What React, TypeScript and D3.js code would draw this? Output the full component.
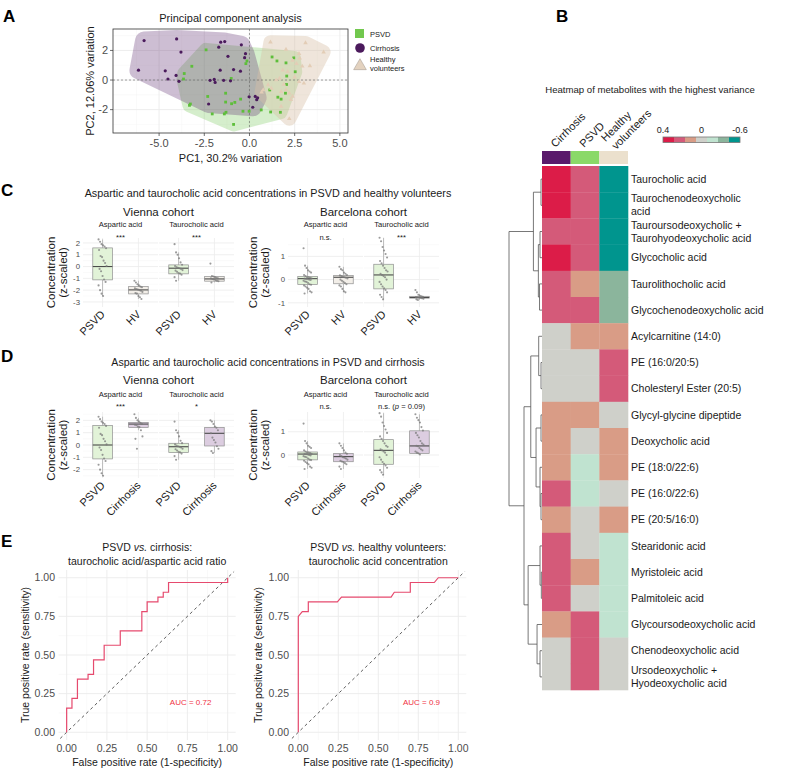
import React from 'react';
import * as d3 from 'd3';

const FONT = "'Liberation Sans', Arial, Helvetica, sans-serif";
const TXT = '#1a1a1a';
const AX = '#4d4d4d';
const GRID = '#EBEBEB';
const GRID_MINOR = '#F5F5F5';

// ---------------- Panel A: PCA ----------------
const pcaPSVD: [number, number][] = [
  [-2.4, 2.04], [-3.19, 0.93], [-3.61, 0.44], [-3.65, 0.07], [-3.27, -1.62], [-3.32, -1.71],
  [-2.06, -2.29], [-1.39, -2.29], [-1.3, -2.18], [-0.88, -3.0], [-1.32, -0.89], [-1.32, -1.49],
  [-0.99, -1.6], [-0.81, -1.51], [-0.49, -1.29], [-0.36, -2.11], [-1.01, 0.11], [-0.2, 1.11],
  [-0.14, 1.29], [-0.02, -2.11], [0.65, -2.02], [1.17, -2.16], [1.71, -2.18], [1.25, 1.56],
  [1.52, 1.29], [2.02, 1.16], [2.53, 0.56], [2.06, 0.27], [1.12, -0.67], [1.57, -1.16],
  [1.75, -1.29], [1.99, -0.89], [-2.31, -1.11], [2.05, -0.3], [2.45, 1.5],
];
const pcaCirrhosis: [number, number][] = [
  [-5.83, 2.67], [-4.03, 2.78], [-6.14, 0.67], [-4.66, 0.62], [-4.51, 0.07], [-4.06, 0.31],
  [-3.9, -0.09], [-3.79, 1.89], [-1.59, 2.56], [-1.37, 2.6], [-0.45, 2.38], [-1.7, 2.22],
  [-1.19, 1.6], [-0.27, 1.51], [-0.22, 1.78], [-1.62, 0.67], [-0.88, 0.71], [-2.18, -0.02],
  [-1.95, 0.04], [-1.9, -0.16], [-1.43, -0.02], [-2.26, -1.62], [-0.02, -1.13], [0.32, -1.11],
  [0.4, -1.33], [0.45, -1.2], [0.18, -1.84], [-1.05, -0.05], [-0.5, 0.6],
];
const pcaHealthy: [number, number][] = [
  [1.16, 2.56], [3.1, 2.51], [4.1, 1.89], [2.02, 2.07], [2.74, 1.78], [2.78, 1.47], [2.38, 1.33],
  [2.6, 1.11], [3.34, 0.96], [2.92, 0.93], [1.84, 0.67], [2.11, 0.56], [1.48, 0.0], [1.66, 0.11],
  [2.74, -0.11], [3.01, -0.22], [1.03, -0.33], [1.21, -0.56], [0.76, -0.67], [0.67, -0.82],
  [2.02, -0.67], [2.2, -0.89], [1.75, -0.78], [2.38, -1.11], [2.29, -1.33], [2.2, -2.62],
  [1.75, -1.78], [2.5, 0.2], [1.9, -0.3],
];
const pcaXTicks = [-5, -2.5, 0, 2.5, 5];
const pcaYTicks = [-2, 0, 2];
const pcaXMinor = [-6.25, -3.75, -1.25, 1.25, 3.75];
const pcaYMinor = [-3, -1, 1, 3];

// ---------------- Panel B: heatmap ----------------
const metabolites = [
  'Taurocholic acid', 'Taurochenodeoxycholic\nacid', 'Tauroursodeoxycholic +\nTaurohyodeoxycholic acid',
  'Glycocholic acid', 'Taurolithocholic acid', 'Glycochenodeoxycholic acid', 'Acylcarnitine (14:0)',
  'PE (16:0/20:5)', 'Cholesteryl Ester (20:5)', 'Glycyl-glycine dipeptide', 'Deoxycholic acid',
  'PE (18:0/22:6)', 'PE (16:0/22:6)', 'PE (20:5/16:0)', 'Stearidonic acid', 'Myristoleic acid',
  'Palmitoleic acid', 'Glycoursodeoxycholic acid', 'Chenodeoxycholic acid',
  'Ursodeoxycholic +\nHyodeoxycholic acid',
];
const heatColumns = ['Cirrhosis', 'PSVD', 'Healthy volunteers'];
const heatCirrhosis = [0.4, 0.4, 0.25, 0.4, 0.25, 0.25, 0, 0, 0, 0.1, 0.1, 0.1, 0.25, 0.1, 0.25, 0.25, 0.25, 0.1, 0, 0];
const heatPSVD = [0.25, 0.25, 0.25, 0.25, 0.1, 0.25, 0.1, 0, 0, 0.1, 0, -0.2, -0.2, 0, 0, 0.1, 0, 0.25, 0.25, 0.25];
const heatHealthy = [-0.6, -0.6, -0.6, -0.6, -0.4, -0.4, 0.1, 0.25, 0.25, 0, 0.1, 0.1, 0, 0.1, -0.2, -0.2, -0.2, -0.2, 0, 0];
const heatLegendBins = [0.4, 0.25, 0.1, 0, -0.2, -0.4, -0.6];
const heatLegendLabels = ['0.4', '0', '-0.6'];
const heatPalette = ['#00958E', '#8BB59C', '#C0E3D0', '#CFD0CA', '#D99C86', '#D45A79', '#DC1C48'];
const annotColors = ['#5A1A6B', '#8AD968', '#EBE0CD'];

type DNode = { h?: number; leaf?: number; children?: DNode[] };
const dendroTree: DNode = { h: 1, children: [
  { h: 0.26, children: [
    { h: 0.03, children: [{ leaf: 0 }, { leaf: 1 }] },
    { h: 0.11, children: [
      { h: 0.06, children: [{ leaf: 2 }, { leaf: 3 }] },
      { h: 0.075, children: [{ leaf: 4 }, { leaf: 5 }] }] }] },
  { h: 0.545, children: [
    { h: 0.34, children: [
      { h: 0.1, children: [{ leaf: 6 }, { h: 0.03, children: [{ leaf: 7 }, { leaf: 8 }] }] },
      { h: 0.18, children: [
        { h: 0.03, children: [{ leaf: 9 }, { leaf: 10 }] },
        { h: 0.06, children: [{ leaf: 11 }, { h: 0.03, children: [{ leaf: 12 }, { leaf: 13 }] }] }] }] },
    { h: 0.42, children: [
      { h: 0.06, children: [{ leaf: 14 }, { h: 0.02, children: [{ leaf: 15 }, { leaf: 16 }] }] },
      { h: 0.15, children: [{ leaf: 17 }, { h: 0.06, children: [{ leaf: 18 }, { leaf: 19 }] }] }] }] }] };

// ---------------- Panels C / D: box plots ----------------
// box stats: [lower whisker, Q1, median, Q3, upper whisker]
const vieAspPSVDBox = [-2.5, -1.13, 0, 1.58, 2.3];
const vieAspPSVDPts = [2.3, 2.1, 1.9, 1.8, 1.7, 1.55, 1.4, 0.9, 0.8, 0.5, 0.3, 0.05, -0.2, -0.4, -0.8, -1.1, -1.3, -1.6, -2.0, -2.3, -2.5];
const vieAspHVBox = [-2.75, -2.32, -1.98, -1.7, -1.2];
const vieAspHVPts = [-1.2, -1.35, -1.5, -1.6, -1.7, -1.75, -1.85, -1.9, -1.95, -2.0, -2.05, -2.15, -2.25, -2.3, -2.5, -2.6, -2.75];
const vieAspCirBox = [1.2, 1.43, 1.7, 1.84, 2.2];
const vieAspCirPts = [2.5, 2.2, 2.0, 1.9, 1.8, 1.7, 1.65, 1.6, 1.5, 1.45, 1.2, 0.7, 0.5, -0.3];
const vieTauPSVDBox = [-1.2, -0.62, -0.14, 0.14, 1.2];
const vieTauPSVDPts = [1.9, 1.2, 1.0, 0.7, 0.35, 0.15, 0.05, -0.05, -0.1, -0.15, -0.2, -0.3, -0.35, -0.45, -0.55, -0.6, -0.7, -0.9, -1.2];
const vieTauHVBox = [-1.35, -1.24, -1.05, -0.85, -0.8];
const vieTauHVPts = [0.25, -0.8, -0.85, -0.9, -0.95, -1.0, -1.0, -1.05, -1.1, -1.15, -1.2, -1.25, -1.35];
const vieTauCirBox = [-0.65, -0.08, 0.95, 1.43, 2.0];
const vieTauCirPts = [2.0, 1.9, 1.7, 1.5, 1.4, 1.2, 0.95, 0.6, 0.4, 0.2, -0.1, -0.3, -0.5, -0.65];

const barAspPSVDBox = [-0.6, -0.21, 0.04, 0.13, 0.6];
const barAspPSVDPts = [1.35, 0.6, 0.5, 0.4, 0.35, 0.3, 0.2, 0.15, 0.1, 0.1, 0.08, 0.05, 0.04, 0.03, 0.02, 0, -0.02, -0.05, -0.08, -0.1, -0.15, -0.2, -0.22, -0.25, -0.3, -0.35, -0.4, -0.5, -0.55, -0.6];
const barAspHVBox = [-0.55, -0.18, 0.1, 0.18, 0.55];
const barAspHVPts = [0.55, 0.45, 0.4, 0.3, 0.25, 0.2, 0.18, 0.15, 0.12, 0.1, 0.08, 0.05, 0.0, -0.05, -0.1, -0.15, -0.2, -0.25, -0.3, -0.4, -0.5, -0.55];
const barAspCirBox = [-0.6, -0.29, -0.07, 0.07, 0.5];
const barAspCirPts = [0.5, 0.4, 0.3, 0.2, 0.1, 0.05, 0.0, -0.05, -0.1, -0.12, -0.15, -0.2, -0.25, -0.28, -0.3, -0.35, -0.4, -0.5, -0.6];
const barTauPSVDBox = [-0.85, -0.4, 0.2, 0.66, 1.8];
const barTauPSVDPts = [1.8, 1.65, 1.4, 1.25, 1.1, 0.95, 0.8, 0.7, 0.6, 0.5, 0.4, 0.35, 0.25, 0.2, 0.15, 0.1, 0.0, -0.1, -0.2, -0.3, -0.38, -0.45, -0.55, -0.65, -0.75, -0.85];
const barTauHVBox = [-0.88, -0.8, -0.77, -0.72, -0.62];
const barTauHVPts = [-0.45, -0.55, -0.65, -0.7, -0.72, -0.74, -0.75, -0.76, -0.77, -0.78, -0.8, -0.82, -0.85, -0.88];
const barTauCirBox = [0.02, 0.07, 0.39, 1.04, 1.75];
const barTauCirPts = [1.75, 1.6, 1.5, 1.4, 1.2, 1.05, 0.95, 0.85, 0.75, 0.6, 0.5, 0.45, 0.4, 0.38, 0.3, 0.25, 0.2, 0.15, 0.1, 0.07, 0.02];

const FILL_PSVD = '#E2F3D8';
const FILL_HV = '#F2EEE8';
const FILL_CIR = '#DCCDE0';

// ---------------- Panel E: ROC ----------------
const rocCirFpr = [0, 0, 0.033, 0.033, 0.067, 0.067, 0.133, 0.133, 0.167, 0.167, 0.233, 0.233, 0.333, 0.333, 0.467, 0.467, 0.5, 0.5, 0.567, 0.567, 0.6, 0.6, 0.633, 0.633, 1, 1];
const rocCirTpr = [0, 0.156, 0.156, 0.219, 0.219, 0.344, 0.344, 0.375, 0.375, 0.469, 0.469, 0.563, 0.563, 0.656, 0.656, 0.781, 0.781, 0.844, 0.844, 0.875, 0.875, 0.906, 0.906, 0.969, 0.969, 1];
const rocHVFpr = [0, 0, 0.025, 0.0625, 0.0625, 0.244, 0.27, 0.58, 0.6, 0.7, 0.7, 0.85, 0.875, 1];
const rocHVTpr = [0, 0.75, 0.781, 0.781, 0.844, 0.844, 0.875, 0.875, 0.906, 0.906, 0.969, 0.969, 1, 1];
const rocTicks = [0, 0.25, 0.5, 0.75, 1];
const rocMinor = [0.125, 0.375, 0.625, 0.875];

// =====================================================

function PanelA() {
  const x = d3.scaleLinear().domain([-7.55, 5.45]).range([113, 348]);
  const y = d3.scaleLinear().domain([-3.58, 3.45]).range([133, 29]);
  const [x0, x1] = x.range();
  const [y1, y0] = y.range();
  const hull = (pts: [number, number][]) => {
    const h = d3.polygonHull(pts.map(p => [x(p[0]), y(p[1])] as [number, number]))!;
    return 'M' + h.map(p => p.join(',')).join('L') + 'Z';
  };
  const groups = [
    { pts: pcaPSVD, hullColor: '#6CC44A', op: 0.28, exp: 14 },
    { pts: pcaCirrhosis, hullColor: '#5E2C70', op: 0.3, exp: 18 },
    { pts: pcaHealthy, hullColor: '#D8C0A6', op: 0.4, exp: 14 },
  ];
  const tri = d3.symbol().type(d3.symbolTriangle).size(9)()!;
  const legTri = d3.symbol().type(d3.symbolTriangle).size(70)()!;
  return (
    <g>
      <text x={3} y={22} fontSize={17} fontWeight="bold" fill="#000">A</text>
      <text x={(x0 + x1) / 2} y={22} fontSize={11} textAnchor="middle" fill={TXT}>Principal component analysis</text>
      <defs>
        <clipPath id="clipA"><rect x={x0} y={y0} width={x1 - x0} height={y1 - y0} /></clipPath>
      </defs>
      <rect x={x0} y={y0} width={x1 - x0} height={y1 - y0} fill="#fff" />
      {pcaXMinor.map(v => <line key={'xm' + v} x1={x(v)} x2={x(v)} y1={y0} y2={y1} stroke={GRID_MINOR} strokeWidth={0.5} />)}
      {pcaYMinor.map(v => <line key={'ym' + v} x1={x0} x2={x1} y1={y(v)} y2={y(v)} stroke={GRID_MINOR} strokeWidth={0.5} />)}
      {pcaXTicks.map(v => <line key={'x' + v} x1={x(v)} x2={x(v)} y1={y0} y2={y1} stroke={GRID} strokeWidth={0.9} />)}
      {pcaYTicks.map(v => <line key={'y' + v} x1={x0} x2={x1} y1={y(v)} y2={y(v)} stroke={GRID} strokeWidth={0.9} />)}
      <g clipPath="url(#clipA)">
        {groups.map((g, i) => (
          <g key={i} opacity={g.op}>
            <path d={hull(g.pts)} fill={g.hullColor} stroke={g.hullColor} strokeWidth={g.exp} strokeLinejoin="round" />
          </g>
        ))}
      </g>
      <line x1={x(0)} x2={x(0)} y1={y0} y2={y1} stroke="#666" strokeWidth={0.6} strokeDasharray="2,2" />
      <line x1={x0} x2={x1} y1={y(0)} y2={y(0)} stroke="#666" strokeWidth={0.6} strokeDasharray="2,2" />
      {pcaPSVD.map((p, i) => <rect key={'p' + i} x={x(p[0]) - 1.4} y={y(p[1]) - 1.4} width={2.8} height={2.8} fill="#5DBE3A" />)}
      {pcaCirrhosis.map((p, i) => <circle key={'c' + i} cx={x(p[0])} cy={y(p[1])} r={1.6} fill="#4A1A5C" />)}
      {pcaHealthy.map((p, i) => <path key={'h' + i} d={tri} transform={`translate(${x(p[0])},${y(p[1])})`} fill="#E3CDB6" />)}
      <rect x={x0} y={y0} width={x1 - x0} height={y1 - y0} fill="none" stroke="#333" strokeWidth={0.8} />
      {pcaXTicks.map(v => (
        <g key={'xt' + v}>
          <line x1={x(v)} x2={x(v)} y1={y1} y2={y1 + 3} stroke="#333" strokeWidth={0.7} />
          <text x={x(v)} y={y1 + 14} fontSize={11} textAnchor="middle" fill={AX}>{v.toFixed(1)}</text>
        </g>
      ))}
      {pcaYTicks.map(v => (
        <g key={'yt' + v}>
          <line x1={x0 - 3} x2={x0} y1={y(v)} y2={y(v)} stroke="#333" strokeWidth={0.7} />
          <text x={x0 - 5} y={y(v)} dy="0.35em" fontSize={11} textAnchor="end" fill={AX}>{v}</text>
        </g>
      ))}
      <text x={(x0 + x1) / 2} y={162} fontSize={11} textAnchor="middle" fill={TXT}>PC1, 30.2% variation</text>
      <text transform={`translate(94,${(y0 + y1) / 2}) rotate(-90)`} fontSize={11} textAnchor="middle" fill={TXT}>PC2, 12.06% variation</text>
      {/* legend */}
      <rect x={355} y={29} width={9} height={9} fill="#72C84E" />
      <text x={370} y={36.5} fontSize={7.5} fill={TXT}>PSVD</text>
      <circle cx={360} cy={48} r={4.8} fill="#4B1A5C" />
      <text x={370} y={50.5} fontSize={7.5} fill={TXT}>Cirrhosis</text>
      <path d={legTri} transform="translate(360,66)" fill="#E3D2BF" stroke="#9c9288" strokeWidth={0.5} />
      <text x={370} y={62} fontSize={7.5} fill={TXT}>Healthy</text>
      <text x={370} y={71} fontSize={7.5} fill={TXT}>volunteers</text>
    </g>
  );
}

function PanelB() {
  const xb = d3.scaleBand<string>().domain(heatColumns).range([542, 628]);
  const yb = d3.scaleBand<string>().domain(metabolites).range([166, 690]);
  const color = d3.scaleThreshold<number, string>().domain([-0.5, -0.3, -0.1, 0.05, 0.18, 0.32]).range(heatPalette);
  const cols = [heatCirrhosis, heatPSVD, heatHealthy];
  const dx = d3.scaleLinear().domain([0, 1]).range([542, 509]);
  const root = d3.hierarchy<DNode>(dendroTree);
  const pos = new Map<any, { x: number; y: number }>();
  root.eachAfter(n => {
    if (n.data.leaf !== undefined) {
      pos.set(n, { x: dx(0), y: yb(metabolites[n.data.leaf])! + yb.bandwidth() / 2 });
    } else {
      const ch = n.children!;
      const ys = ch.map(c => pos.get(c)!.y);
      pos.set(n, { x: dx(n.data.h!), y: (ys[0] + ys[ys.length - 1]) / 2 });
    }
  });
  const segs: string[] = [];
  root.each(n => {
    if (!n.children) return;
    const p = pos.get(n)!;
    const ys = n.children.map(c => pos.get(c)!.y);
    segs.push(`M${p.x},${ys[0]}L${p.x},${ys[ys.length - 1]}`);
    n.children.forEach(c => {
      const q = pos.get(c)!;
      segs.push(`M${p.x},${q.y}L${q.x},${q.y}`);
    });
  });
  const lx = d3.scaleBand<number>().domain(d3.range(heatLegendBins.length)).range([663, 740]);
  const colLabelLines = heatColumns.map(c => (c === 'Healthy volunteers' ? ['Healthy', 'volunteers'] : [c]));
  return (
    <g>
      <text x={556} y={22} fontSize={17} fontWeight="bold" fill="#000">B</text>
      <text x={650} y={93} fontSize={9.6} textAnchor="middle" fill={TXT}>Heatmap of metabolites with the highest variance</text>
      {heatColumns.map((c, i) => (
        <g key={c} transform={`translate(${xb(c)! + xb.bandwidth() / 2 - 1},148) rotate(-45)`}>
          {colLabelLines[i].length === 1 ? (
            <text x={0} y={0} fontSize={11} fill={TXT}>{colLabelLines[i][0]}</text>
          ) : (
            <text fontSize={11} fill={TXT}>
              <tspan x={-1} y={-9}>{colLabelLines[i][0]}</tspan>
              <tspan x={1} y={4}>{colLabelLines[i][1]}</tspan>
            </text>
          )}
        </g>
      ))}
      {heatColumns.map((c, i) => (
        <rect key={'an' + c} x={xb(c)} y={151} width={xb.bandwidth()} height={13} fill={annotColors[i]} />
      ))}
      {cols.map((vals, ci) => vals.map((v, ri) => (
        <rect key={ci + '-' + ri} x={xb(heatColumns[ci])} y={yb(metabolites[ri])} width={xb.bandwidth() + 0.3} height={yb.bandwidth() + 0.3} fill={color(v)} />
      )))}
      {metabolites.map(m => {
        const lines = m.split('\n');
        const cy = yb(m)! + yb.bandwidth() / 2;
        return (
          <text key={m} fontSize={10.5} fill={TXT}>
            {lines.map((l, k) => (
              <tspan key={k} x={631} y={cy + (k - (lines.length - 1) / 2) * 13} dy="0.35em">{l}</tspan>
            ))}
          </text>
        );
      })}
      <path d={segs.join('')} fill="none" stroke="#555" strokeWidth={0.8} />
      {heatLegendBins.map((v, i) => (
        <rect key={'lg' + i} x={lx(i)} y={137} width={lx.bandwidth()} height={5.5} fill={color(v)} />
      ))}
      <rect x={663} y={137} width={77} height={5.5} fill="none" stroke="#777" strokeWidth={0.8} />
      <text x={lx(0)} y={133} fontSize={9} textAnchor="middle" fill={TXT}>{heatLegendLabels[0]}</text>
      <text x={lx(3)! + lx.bandwidth() / 2} y={133} fontSize={9} textAnchor="middle" fill={TXT}>{heatLegendLabels[1]}</text>
      <text x={lx(6)! + lx.bandwidth()} y={133} fontSize={9} textAnchor="middle" fill={TXT}>{heatLegendLabels[2]}</text>
    </g>
  );
}

type Grp = { name: string; box: number[]; pts: number[]; fill: string };
type Facet = { label: string; sig: React.ReactNode; x0: number; groups: Grp[] };

function jitter(i: number) {
  return (((i * 37) % 17) / 16 - 0.5) * 8;
}

function BoxPanel(props: {
  facets: Facet[]; width: number; top: number; bottom: number; domain: [number, number];
  ticks: number[]; minor: number[]; stripY: number; sigY: number; cohort: string; cohortY: number;
  tickLabelX: number; titleX: number;
}) {
  const { facets, width, top, bottom, domain, ticks, minor, stripY, sigY, cohort, cohortY, tickLabelX, titleX } = props;
  const y = d3.scaleLinear().domain(domain).range([bottom, top]);
  const left = facets[0].x0;
  const right = facets[facets.length - 1].x0 + width;
  return (
    <g>
      <text x={(left + right) / 2} y={cohortY} fontSize={11.5} textAnchor="middle" fill={TXT}>{cohort}</text>
      {facets.map(f => {
        const x = d3.scaleBand<string>().domain(f.groups.map(g => g.name)).range([f.x0, f.x0 + width]).paddingInner(0.4545).paddingOuter(0.2727);
        const bw = x.bandwidth();
        return (
          <g key={f.label}>
            {minor.map(v => <line key={'m' + v} x1={f.x0} x2={f.x0 + width} y1={y(v)} y2={y(v)} stroke={GRID_MINOR} strokeWidth={0.5} />)}
            {ticks.map(v => <line key={'t' + v} x1={f.x0} x2={f.x0 + width} y1={y(v)} y2={y(v)} stroke={GRID} strokeWidth={0.8} />)}
            {f.groups.map(g => (
              <line key={'v' + g.name} x1={x(g.name)! + bw / 2} x2={x(g.name)! + bw / 2} y1={top} y2={bottom} stroke={GRID} strokeWidth={0.8} />
            ))}
            <text x={f.x0 + width / 2} y={stripY} fontSize={7.6} textAnchor="middle" fill={TXT}>{f.label}</text>
            <text x={f.x0 + width / 2} y={sigY} fontSize={7.6} textAnchor="middle" fill={TXT}>{f.sig}</text>
            {f.groups.map(g => {
              const cx = x(g.name)! + bw / 2;
              const [lo, q1, med, q3, hi] = g.box;
              return (
                <g key={g.name}>
                  <line x1={cx} x2={cx} y1={y(hi)} y2={y(q3)} stroke="#999" strokeWidth={0.6} />
                  <line x1={cx} x2={cx} y1={y(q1)} y2={y(lo)} stroke="#999" strokeWidth={0.6} />
                  <rect x={x(g.name)} y={y(q3)} width={bw} height={y(q1) - y(q3)} fill={g.fill} stroke="#8f8f8f" strokeWidth={0.7} />
                  <line x1={x(g.name)} x2={x(g.name)! + bw} y1={y(med)} y2={y(med)} stroke="#4a4a4a" strokeWidth={1.1} />
                  {g.pts.map((v, i) => (
                    <circle key={i} cx={cx + jitter(i)} cy={y(v)} r={1.05} fill="#7a7a7a" opacity={0.75} />
                  ))}
                  <text transform={`translate(${cx + 3},${bottom + 8}) rotate(-45)`} fontSize={11} textAnchor="end" fill={TXT}>{g.name}</text>
                </g>
              );
            })}
          </g>
        );
      })}
      {ticks.map(v => (
        <text key={'yl' + v} x={tickLabelX} y={y(v)} dy="0.35em" fontSize={7.8} textAnchor="end" fill={AX}>{v}</text>
      ))}
      <text transform={`translate(${titleX},${(top + bottom) / 2}) rotate(-90)`} fontSize={11.5} textAnchor="middle" fill={TXT}>
        <tspan x={0} y={0}>Concentration</tspan>
        <tspan x={0} y={12}>(z-scaled)</tspan>
      </text>
    </g>
  );
}

function PanelC() {
  const W = 75;
  return (
    <g>
      <text x={1} y={196} fontSize={17} fontWeight="bold" fill="#000">C</text>
      <text x={268} y={197} fontSize={10.8} textAnchor="middle" fill={TXT}>Aspartic and taurocholic acid concentrations in PSVD and healthy volunteers</text>
      <BoxPanel
        width={W} top={238} bottom={307} domain={[-3.43, 2.42]} ticks={[-3, -2, -1, 0, 1, 2]} minor={[-2.5, -1.5, -0.5, 0.5, 1.5]}
        stripY={227} sigY={240} cohort="Vienna cohort" cohortY={216} tickLabelX={80} titleX={55}
        facets={[
          { label: 'Aspartic acid', sig: '***', x0: 83, groups: [
            { name: 'PSVD', box: vieAspPSVDBox, pts: vieAspPSVDPts, fill: FILL_PSVD },
            { name: 'HV', box: vieAspHVBox, pts: vieAspHVPts, fill: FILL_HV }] },
          { label: 'Taurocholic acid', sig: '***', x0: 159, groups: [
            { name: 'PSVD', box: vieTauPSVDBox, pts: vieTauPSVDPts, fill: FILL_PSVD },
            { name: 'HV', box: vieTauHVBox, pts: vieTauHVPts, fill: FILL_HV }] },
        ]}
      />
      <BoxPanel
        width={W} top={238} bottom={307} domain={[-1.18, 1.79]} ticks={[-1, 0, 1]} minor={[-0.5, 0.5, 1.5]}
        stripY={227} sigY={240} cohort="Barcelona cohort" cohortY={216} tickLabelX={285} titleX={257}
        facets={[
          { label: 'Aspartic acid', sig: 'n.s.', x0: 288, groups: [
            { name: 'PSVD', box: barAspPSVDBox, pts: barAspPSVDPts, fill: FILL_PSVD },
            { name: 'HV', box: barAspHVBox, pts: barAspHVPts, fill: FILL_HV }] },
          { label: 'Taurocholic acid', sig: '***', x0: 364, groups: [
            { name: 'PSVD', box: barTauPSVDBox, pts: barTauPSVDPts, fill: FILL_PSVD },
            { name: 'HV', box: barTauHVBox, pts: barTauHVPts, fill: FILL_HV }] },
        ]}
      />
    </g>
  );
}

function PanelD() {
  const W = 75;
  return (
    <g>
      <text x={1} y={362} fontSize={17} fontWeight="bold" fill="#000">D</text>
      <text x={268} y={366} fontSize={10.6} textAnchor="middle" fill={TXT}>Aspartic and taurocholic acid concentrations in PSVD and cirrhosis</text>
      <BoxPanel
        width={W} top={412} bottom={478} domain={[-2.68, 2.68]} ticks={[-2, -1, 0, 1, 2]} minor={[-2.5, -1.5, -0.5, 0.5, 1.5, 2.5]}
        stripY={397} sigY={409} cohort="Vienna cohort" cohortY={384} tickLabelX={80} titleX={55}
        facets={[
          { label: 'Aspartic acid', sig: '***', x0: 83, groups: [
            { name: 'PSVD', box: vieAspPSVDBox, pts: vieAspPSVDPts, fill: FILL_PSVD },
            { name: 'Cirrhosis', box: vieAspCirBox, pts: vieAspCirPts, fill: FILL_CIR }] },
          { label: 'Taurocholic acid', sig: '*', x0: 159, groups: [
            { name: 'PSVD', box: vieTauPSVDBox, pts: vieTauPSVDPts, fill: FILL_PSVD },
            { name: 'Cirrhosis', box: vieTauCirBox, pts: vieTauCirPts, fill: FILL_CIR }] },
        ]}
      />
      <BoxPanel
        width={W} top={412} bottom={478} domain={[-0.99, 1.85]} ticks={[0, 1]} minor={[-0.5, 0.5, 1.5]}
        stripY={397} sigY={409} cohort="Barcelona cohort" cohortY={384} tickLabelX={285} titleX={257}
        facets={[
          { label: 'Aspartic acid', sig: 'n.s.', x0: 288, groups: [
            { name: 'PSVD', box: barAspPSVDBox, pts: barAspPSVDPts, fill: FILL_PSVD },
            { name: 'Cirrhosis', box: barAspCirBox, pts: barAspCirPts, fill: FILL_CIR }] },
          { label: 'Taurocholic acid', sig: <>n.s. (<tspan fontStyle="italic">p</tspan> = 0.09)</>, x0: 364, groups: [
            { name: 'PSVD', box: barTauPSVDBox, pts: barTauPSVDPts, fill: FILL_PSVD },
            { name: 'Cirrhosis', box: barTauCirBox, pts: barTauCirPts, fill: FILL_CIR }] },
        ]}
      />
    </g>
  );
}

function Roc(props: { left: number; right: number; fpr: number[]; tpr: number[]; t1: React.ReactNode; t2: string; auc: string; tickEnd: number; yTitleX: number }) {
  const { left, right, fpr, tpr, t1, t2, auc, tickEnd, yTitleX } = props;
  const x = d3.scaleLinear().domain([-0.05, 1.05]).range([left, right]);
  const y = d3.scaleLinear().domain([-0.05, 1.05]).range([740, 570]);
  const line = d3.line<number>().x(i => x(fpr[i])).y(i => y(tpr[i]));
  const cx = (left + right) / 2;
  return (
    <g>
      {rocMinor.map(v => <line key={'mx' + v} x1={x(v)} x2={x(v)} y1={570} y2={740} stroke={GRID_MINOR} strokeWidth={0.6} />)}
      {rocMinor.map(v => <line key={'my' + v} x1={left} x2={right} y1={y(v)} y2={y(v)} stroke={GRID_MINOR} strokeWidth={0.6} />)}
      {rocTicks.map(v => <line key={'x' + v} x1={x(v)} x2={x(v)} y1={570} y2={740} stroke={GRID} strokeWidth={0.9} />)}
      {rocTicks.map(v => <line key={'y' + v} x1={left} x2={right} y1={y(v)} y2={y(v)} stroke={GRID} strokeWidth={0.9} />)}
      <line x1={x(-0.04)} y1={y(-0.04)} x2={x(1.04)} y2={y(1.04)} stroke="#333" strokeWidth={0.8} strokeDasharray="3,3" />
      <path d={line(d3.range(fpr.length))!} fill="none" stroke="#E64A6E" strokeWidth={1.2} />
      <text x={x(0.77)} y={705} fontSize={8} textAnchor="middle" fill="#F0333F">{auc}</text>
      {rocTicks.map(v => (
        <text key={'xt' + v} x={x(v)} y={752} fontSize={10.5} textAnchor="middle" fill={AX}>{v.toFixed(2)}</text>
      ))}
      {rocTicks.map(v => (
        <text key={'yt' + v} x={tickEnd} y={y(v)} dy="0.35em" fontSize={10.5} textAnchor="end" fill={AX}>{v.toFixed(2)}</text>
      ))}
      <text x={cx} y={551} fontSize={10.5} textAnchor="middle" fill={TXT}>{t1}</text>
      <text x={cx} y={565} fontSize={10.5} textAnchor="middle" fill={TXT}>{t2}</text>
      <text x={cx} y={766} fontSize={10.5} textAnchor="middle" fill={TXT}>False positive rate (1-specificity)</text>
      <text transform={`translate(${yTitleX},${y(0.5)}) rotate(-90)`} fontSize={10.5} textAnchor="middle" fill={TXT}>True positive rate (sensitivity)</text>
    </g>
  );
}

function PanelE() {
  return (
    <g>
      <text x={1} y={547} fontSize={17} fontWeight="bold" fill="#000">E</text>
      <Roc left={58.6} right={235.7} fpr={rocCirFpr} tpr={rocCirTpr} tickEnd={55} yTitleX={29}
        t1={<>PSVD <tspan fontStyle="italic">vs.</tspan> cirrhosis:</>} t2="taurocholic acid/aspartic acid ratio" auc="AUC = 0.72" />
      <Roc left={290.3} right={466.3} fpr={rocHVFpr} tpr={rocHVTpr} tickEnd={289} yTitleX={262}
        t1={<>PSVD <tspan fontStyle="italic">vs.</tspan> healthy volunteers:</>} t2="taurocholic acid concentration" auc="AUC = 0.9" />
    </g>
  );
}

export default function App() {
  return (
    <svg width={787} height={777} style={{ position: 'absolute', left: 0, top: 0, background: '#fff' }} fontFamily={FONT}>
      <rect width={787} height={777} fill="#fff" />
      <PanelA />
      <PanelB />
      <PanelC />
      <PanelD />
      <PanelE />
    </svg>
  );
}
